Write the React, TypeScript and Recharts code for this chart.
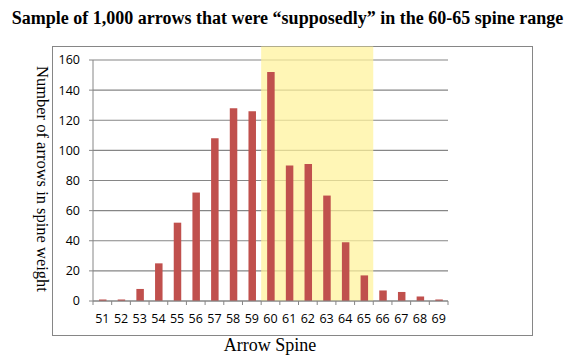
import React from 'react';
import { BarChart, Bar, XAxis, YAxis, CartesianGrid, ReferenceArea } from 'recharts';

// arrow spine categories and how many arrows landed in each
const spines = ['51', '52', '53', '54', '55', '56', '57', '58', '59', '60', '61', '62', '63', '64', '65', '66', '67', '68', '69'];
const counts = [1, 1, 8, 25, 52, 72, 108, 128, 126, 152, 90, 91, 70, 39, 17, 7, 6, 3, 1];
const yTicks = [0, 20, 40, 60, 80, 100, 120, 140, 160];
const rangeStart = '60';
const rangeEnd = '65';

const data = spines.map((s, i) => ({ spine: s, count: counts[i] }));

const gray = '#868686';
const barColor = '#C0504D';

// Excel-style tick: mark on the band boundary, label in the middle
const SpineTick = (props: any) => {
  const { x, y, payload, index } = props;
  const half = payload.offset ?? 0;
  const last = index === spines.length - 1;
  return (
    <g>
      <line x1={x - half} y1={y - 8} x2={x - half} y2={y - 4} stroke={gray} />
      {last && <line x1={x + half} y1={y - 8} x2={x + half} y2={y - 4} stroke={gray} />}
      <text x={x} y={y + 14} textAnchor="middle" fontSize={12.5} fill="#000" fontFamily="'Open Sans', sans-serif">
        {payload.value}
      </text>
    </g>
  );
};

export default function App() {
  return (
    <div style={{ position: 'absolute', left: 0, top: 0, width: 575, height: 363, background: '#fff', fontFamily: "'Liberation Serif', serif" }}>
      <div style={{ position: 'absolute', left: 0, top: 8, width: 575, textAlign: 'center', fontWeight: 'bold', fontSize: 18 }}>
        Sample of 1,000 arrows that were “supposedly” in the 60-65 spine range
      </div>
      <div style={{ position: 'absolute', left: 52, top: 46, width: 479, height: 288, border: `1.2px solid ${gray}` }} />
      <div style={{ position: 'absolute', left: 0, top: 0 }}>
        <BarChart width={575} height={363} data={data} margin={{ top: 60, right: 127, bottom: 32, left: 53 }} barSize={7.5}>
          <ReferenceArea x1={rangeStart} x2={rangeEnd} y1={0} y2={169} fill="#FFF29A" fillOpacity={0.72} stroke="none" ifOverflow="visible" />
          <CartesianGrid vertical={false} stroke={gray} strokeWidth={1.2} />
          <XAxis dataKey="spine" stroke={gray} tickLine={false} tick={<SpineTick />} height={30} interval={0} />
          <YAxis
            domain={[0, 160]}
            ticks={yTicks}
            width={40}
            stroke={gray}
            tickSize={4}
            tickMargin={9}
            tick={{ fill: '#000', fontSize: 12.5, fontFamily: "'Open Sans', sans-serif" }}
          />
          <Bar dataKey="count" fill={barColor} isAnimationActive={false} />
        </BarChart>
      </div>
      <div style={{ position: 'absolute', left: 0, top: 335, width: 540, textAlign: 'center', fontSize: 18 }}>Arrow Spine</div>
      <div
        style={{
          position: 'absolute',
          left: 42,
          top: 179,
          transform: 'translate(-50%, -50%) rotate(90deg)',
          whiteSpace: 'nowrap',
          fontSize: 16.5,
        }}
      >
        Number of arrows in spine weight
      </div>
    </div>
  );
}
